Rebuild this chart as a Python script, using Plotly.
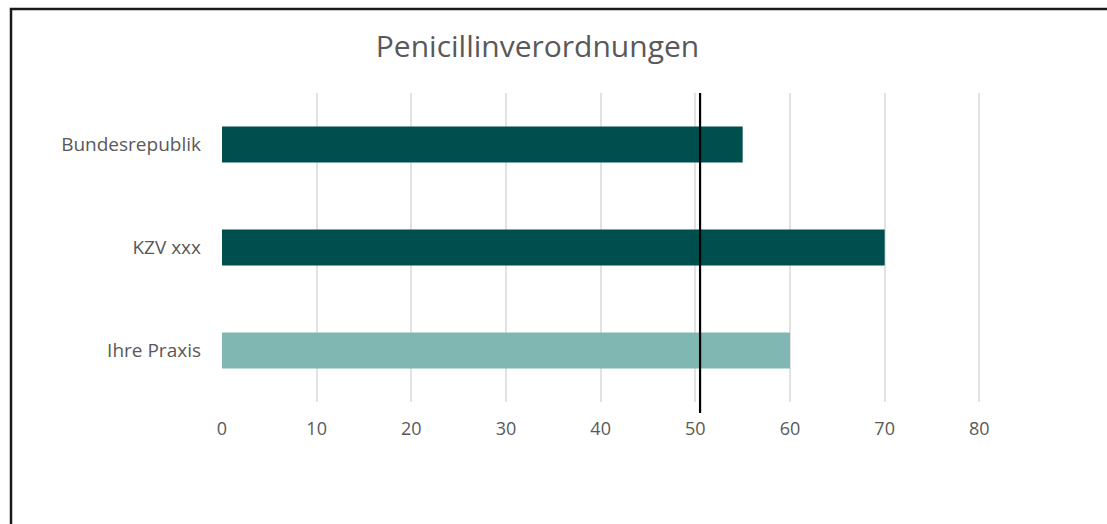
import plotly.graph_objects as go

categories = ["Ihre Praxis", "KZV xxx", "Bundesrepublik"]
values = [60, 70, 55]
bar_colors = ["#80B7B2", "#004F4F", "#004F4F"]
reference_value = 50.5
x_ticks = [0, 10, 20, 30, 40, 50, 60, 70, 80]
title_text = "Penicillinverordnungen"

W, H = 1107, 524
L, R, T, B = 222, 33, 93, 122
plot_w = W - L - R
plot_h = H - T - B

fig = go.Figure()
fig.add_trace(go.Bar(
    y=categories, x=values, orientation="h",
    marker=dict(color=bar_colors, line=dict(width=0)),
    width=0.35, hoverinfo="skip", showlegend=False,
))

# reference line (x in data units, y extends a little below the plot)
fig.add_shape(type="line", xref="x", yref="paper",
              x0=reference_value, x1=reference_value,
              y0=-11 / plot_h, y1=1.0,
              line=dict(color="black", width=2.2))

# outer frame (left and top border, cut off at right/bottom)
fx = (11 - L) / plot_w
fy = 1 + (T - 9) / plot_h
fig.add_shape(type="path", xref="paper", yref="paper",
              path=f"M {fx} -2 L {fx} {fy} L 3 {fy}",
              line=dict(color="#1a1a1a", width=2.5))

fig.update_layout(
    width=W, height=H,
    margin=dict(l=L, r=R, t=T, b=B, pad=0),
    paper_bgcolor="white", plot_bgcolor="white",
    font=dict(family="Open Sans", color="#595959"),
    title=dict(text=title_text, x=537.5 / W, xref="container", xanchor="center",
               y=1 - 46 / H, yref="container", yanchor="middle",
               font=dict(size=30, color="#595959", family="Open Sans")),
    xaxis=dict(range=[0, 90], tickvals=x_ticks, showgrid=True,
               gridcolor="#E2E2E2", gridwidth=1.5, zeroline=False,
               showline=False, ticks="", ticklabelstandoff=14,
               tickfont=dict(size=18, color="#595959")),
    yaxis=dict(range=[-0.5, 2.5], showgrid=False, zeroline=False,
               showline=False, ticks="", ticklabelstandoff=20,
               tickfont=dict(size=19, color="#595959")),
    bargap=0.65,
)

fig.write_html("out.html", config=dict(displayModeBar=False))
